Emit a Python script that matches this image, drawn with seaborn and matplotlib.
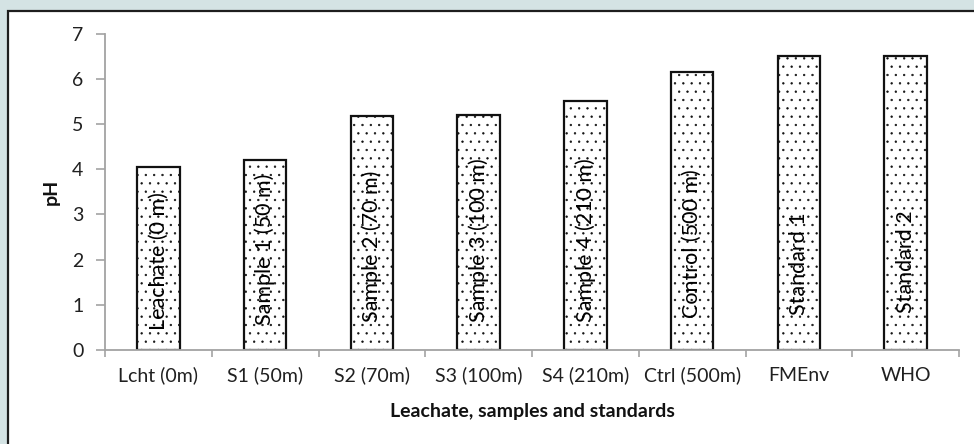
import matplotlib
matplotlib.use("Agg")
import matplotlib.pyplot as plt
import matplotlib.patches as mpatches
import numpy as np
import pandas as pd
import seaborn as sns

# pH of the leachate, downstream samples and reference standards
categories = ["Lcht (0m)", "S1 (50m)", "S2 (70m)", "S3 (100m)", "S4 (210m)",
              "Ctrl (500m)", "FMEnv", "WHO"]
bar_labels = ["Leachate (0 m)", "Sample 1 (50 m)", "Sample 2 (70 m)", "Sample 3 (100 m)",
              "Sample 4 (210 m)", "Control (500 m)", "Standard 1", "Standard 2"]
ph_values = [4.06, 4.2, 5.17, 5.2, 5.52, 6.15, 6.5, 6.5]
y_ticks = [0, 1, 2, 3, 4, 5, 6, 7]

# where each in-bar caption starts (pH units above the baseline)
caption_base = [0.44, 0.55, 0.62, 0.62, 0.62, 0.71, 0.77, 0.82]

df = pd.DataFrame({"site": categories, "pH": ph_values})

sns.set_theme(style="white")
plt.rcParams["font.family"] = ["Lato", "DejaVu Sans"]
plt.rcParams["hatch.linewidth"] = 0.45
plt.rcParams["hatch.color"] = "black"

W, H = 974, 444
fig = plt.figure(figsize=(W / 100, H / 100), dpi=100, facecolor="#d4e3e4")

# white chart panel with a dark border, drawn beneath the axes
panel = mpatches.Rectangle((8 / W, -0.2), 1.2, 1 - 11 / H + 0.2,
                           transform=fig.transFigure, facecolor="white",
                           edgecolor="#1e1e1e", linewidth=1.6, zorder=-5)
fig.patches.append(panel)

ax = fig.add_axes([105 / W, 1 - 350 / H, (959 - 105) / W, (350 - 33.7) / H])
ax.set_facecolor("white")

sns.barplot(data=df, x="site", y="pH", color="white", saturation=1, width=0.4,
            edgecolor="#111111", linewidth=1.6, hatch="..", errorbar=None, ax=ax)

for i, (txt, base) in enumerate(zip(bar_labels, caption_base)):
    ax.text(i, base, txt, rotation=90, ha="center", va="bottom",
            fontsize=15.5, color="black", zorder=5)

ax.set_xlim(-0.5, len(categories) - 0.5)
ax.set_ylim(0, 7)
ax.set_yticks(y_ticks)
ax.set_xticks(np.arange(-0.5, len(categories), 1.0), minor=True)

grey = "#a3a3a3"
for side in ("top", "right"):
    ax.spines[side].set_visible(False)
for side in ("left", "bottom"):
    ax.spines[side].set_color(grey)
    ax.spines[side].set_linewidth(1.3)

ax.tick_params(axis="x", which="major", length=0, pad=12, labelsize=14,
               labelcolor="#202020", bottom=True)
ax.tick_params(axis="x", which="minor", length=5, width=1.2, color=grey,
               direction="out", bottom=True)
ax.tick_params(axis="y", which="major", length=6.5, width=1.2, color=grey,
               direction="out", left=True, pad=9, labelsize=14, labelcolor="#202020")

ax.set_xlabel("Leachate, samples and standards", fontsize=14, fontweight="bold",
              color="#111111")
ax.set_ylabel("pH", fontsize=14, fontweight="bold", color="#111111")
ax.xaxis.set_label_coords(0.5, -(403 - 350) / 316.3)
ax.yaxis.set_label_coords(-(105 - 60) / 854, 0.5)

fig.savefig("out.png", dpi=100, facecolor=fig.get_facecolor())
